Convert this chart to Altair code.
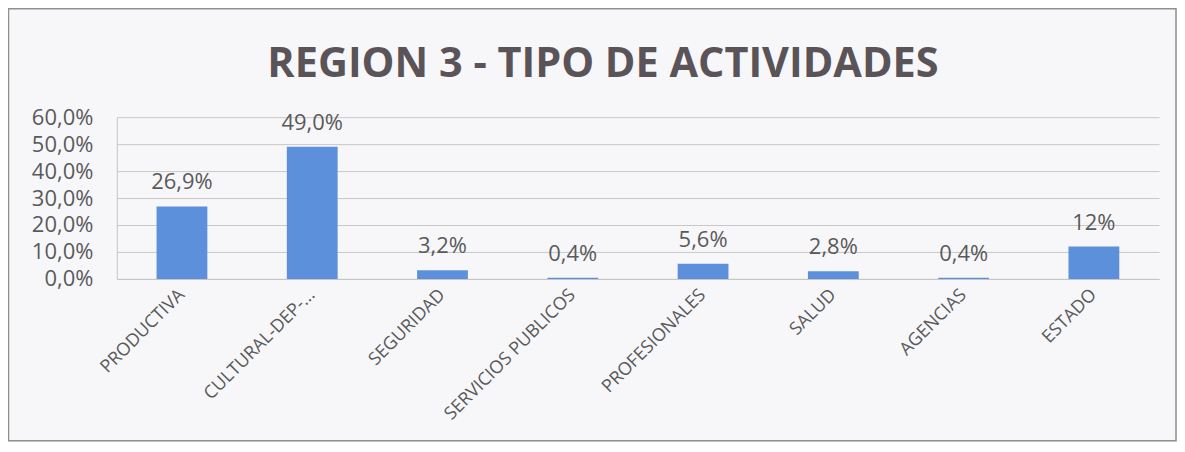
import altair as alt
import pandas as pd

categories = ["PRODUCTIVA", "CULTURAL-DEP-...", "SEGURIDAD", "SERVICIOS PUBLICOS",
              "PROFESIONALES", "SALUD", "AGENCIAS", "ESTADO"]
values = [0.269, 0.490, 0.032, 0.004, 0.056, 0.028, 0.004, 0.12]
labels = ["26,9%", "49,0%", "3,2%", "0,4%", "5,6%", "2,8%", "0,4%", "12%"]
title_text = "REGION 3 - TIPO DE ACTIVIDADES"

df = pd.DataFrame({"cat": categories, "val": values, "lab": labels})

W, H = 1044, 162
PL, PT, PR, PB = 109, 109, 18, 163
TXT = "#5a5a5a"
TITLE_C = "#5a5458"
FONT = "Open Sans"

x = alt.X("cat:N", sort=categories, title=None,
          scale=alt.Scale(paddingInner=0.61, paddingOuter=0.305),
          axis=alt.Axis(labelAngle=-45, labelAlign="right", labelBaseline="middle",
                        labelFontSize=18, labelColor=TXT, labelFont=FONT,
                        ticks=False, domain=True, domainColor="#c4c4c4",
                        labelPadding=13))
y = alt.Y("val:Q", title=None,
          scale=alt.Scale(domain=[0, 0.6], nice=False),
          axis=alt.Axis(values=[0, 0.1, 0.2, 0.3, 0.4, 0.5, 0.6],
                        labelExpr="replace(format(datum.value, '.1%'), '.', ',')",
                        labelOverlap=False,
                        labelFontSize=22, labelColor=TXT, labelFont=FONT,
                        ticks=False, domain=True, domainColor="#c4c4c4",
                        gridColor="#c8c8c8", labelPadding=24))

base = alt.Chart(df)
one = "datum.cat == 'PRODUCTIVA'"

frame = base.mark_rect(fill=None, stroke="#8f8f8f", strokeWidth=1.5, clip=False).encode(
    x=alt.value(-PL + 0.5), x2=alt.value(W + PR - 1),
    y=alt.value(-PT + 0.5), y2=alt.value(H + PB - 1)
).transform_filter(one)

title = base.mark_text(fontSize=41.5, font=FONT, fontWeight="bold", color=TITLE_C,
                       baseline="alphabetic", align="center").encode(
    x=alt.value(487), y=alt.value(-40), text=alt.value(title_text)
).transform_filter(one)

bars = base.mark_bar(color="#5d90da").encode(x=x, y=y)
text = base.mark_text(baseline="middle", dy=-24, fontSize=22, color=TXT, font=FONT).encode(
    x=x, y=y, text="lab:N")

chart = alt.layer(frame, title, bars, text).properties(
    width=W, height=H,
    autosize=alt.AutoSizeParams(type="none"),
    padding={"left": PL, "top": PT, "right": PR, "bottom": PB},
).configure(background="#f7f7fa").configure_view(stroke=None)

chart.save("out.html", embed_options={"renderer": "svg", "actions": False})
